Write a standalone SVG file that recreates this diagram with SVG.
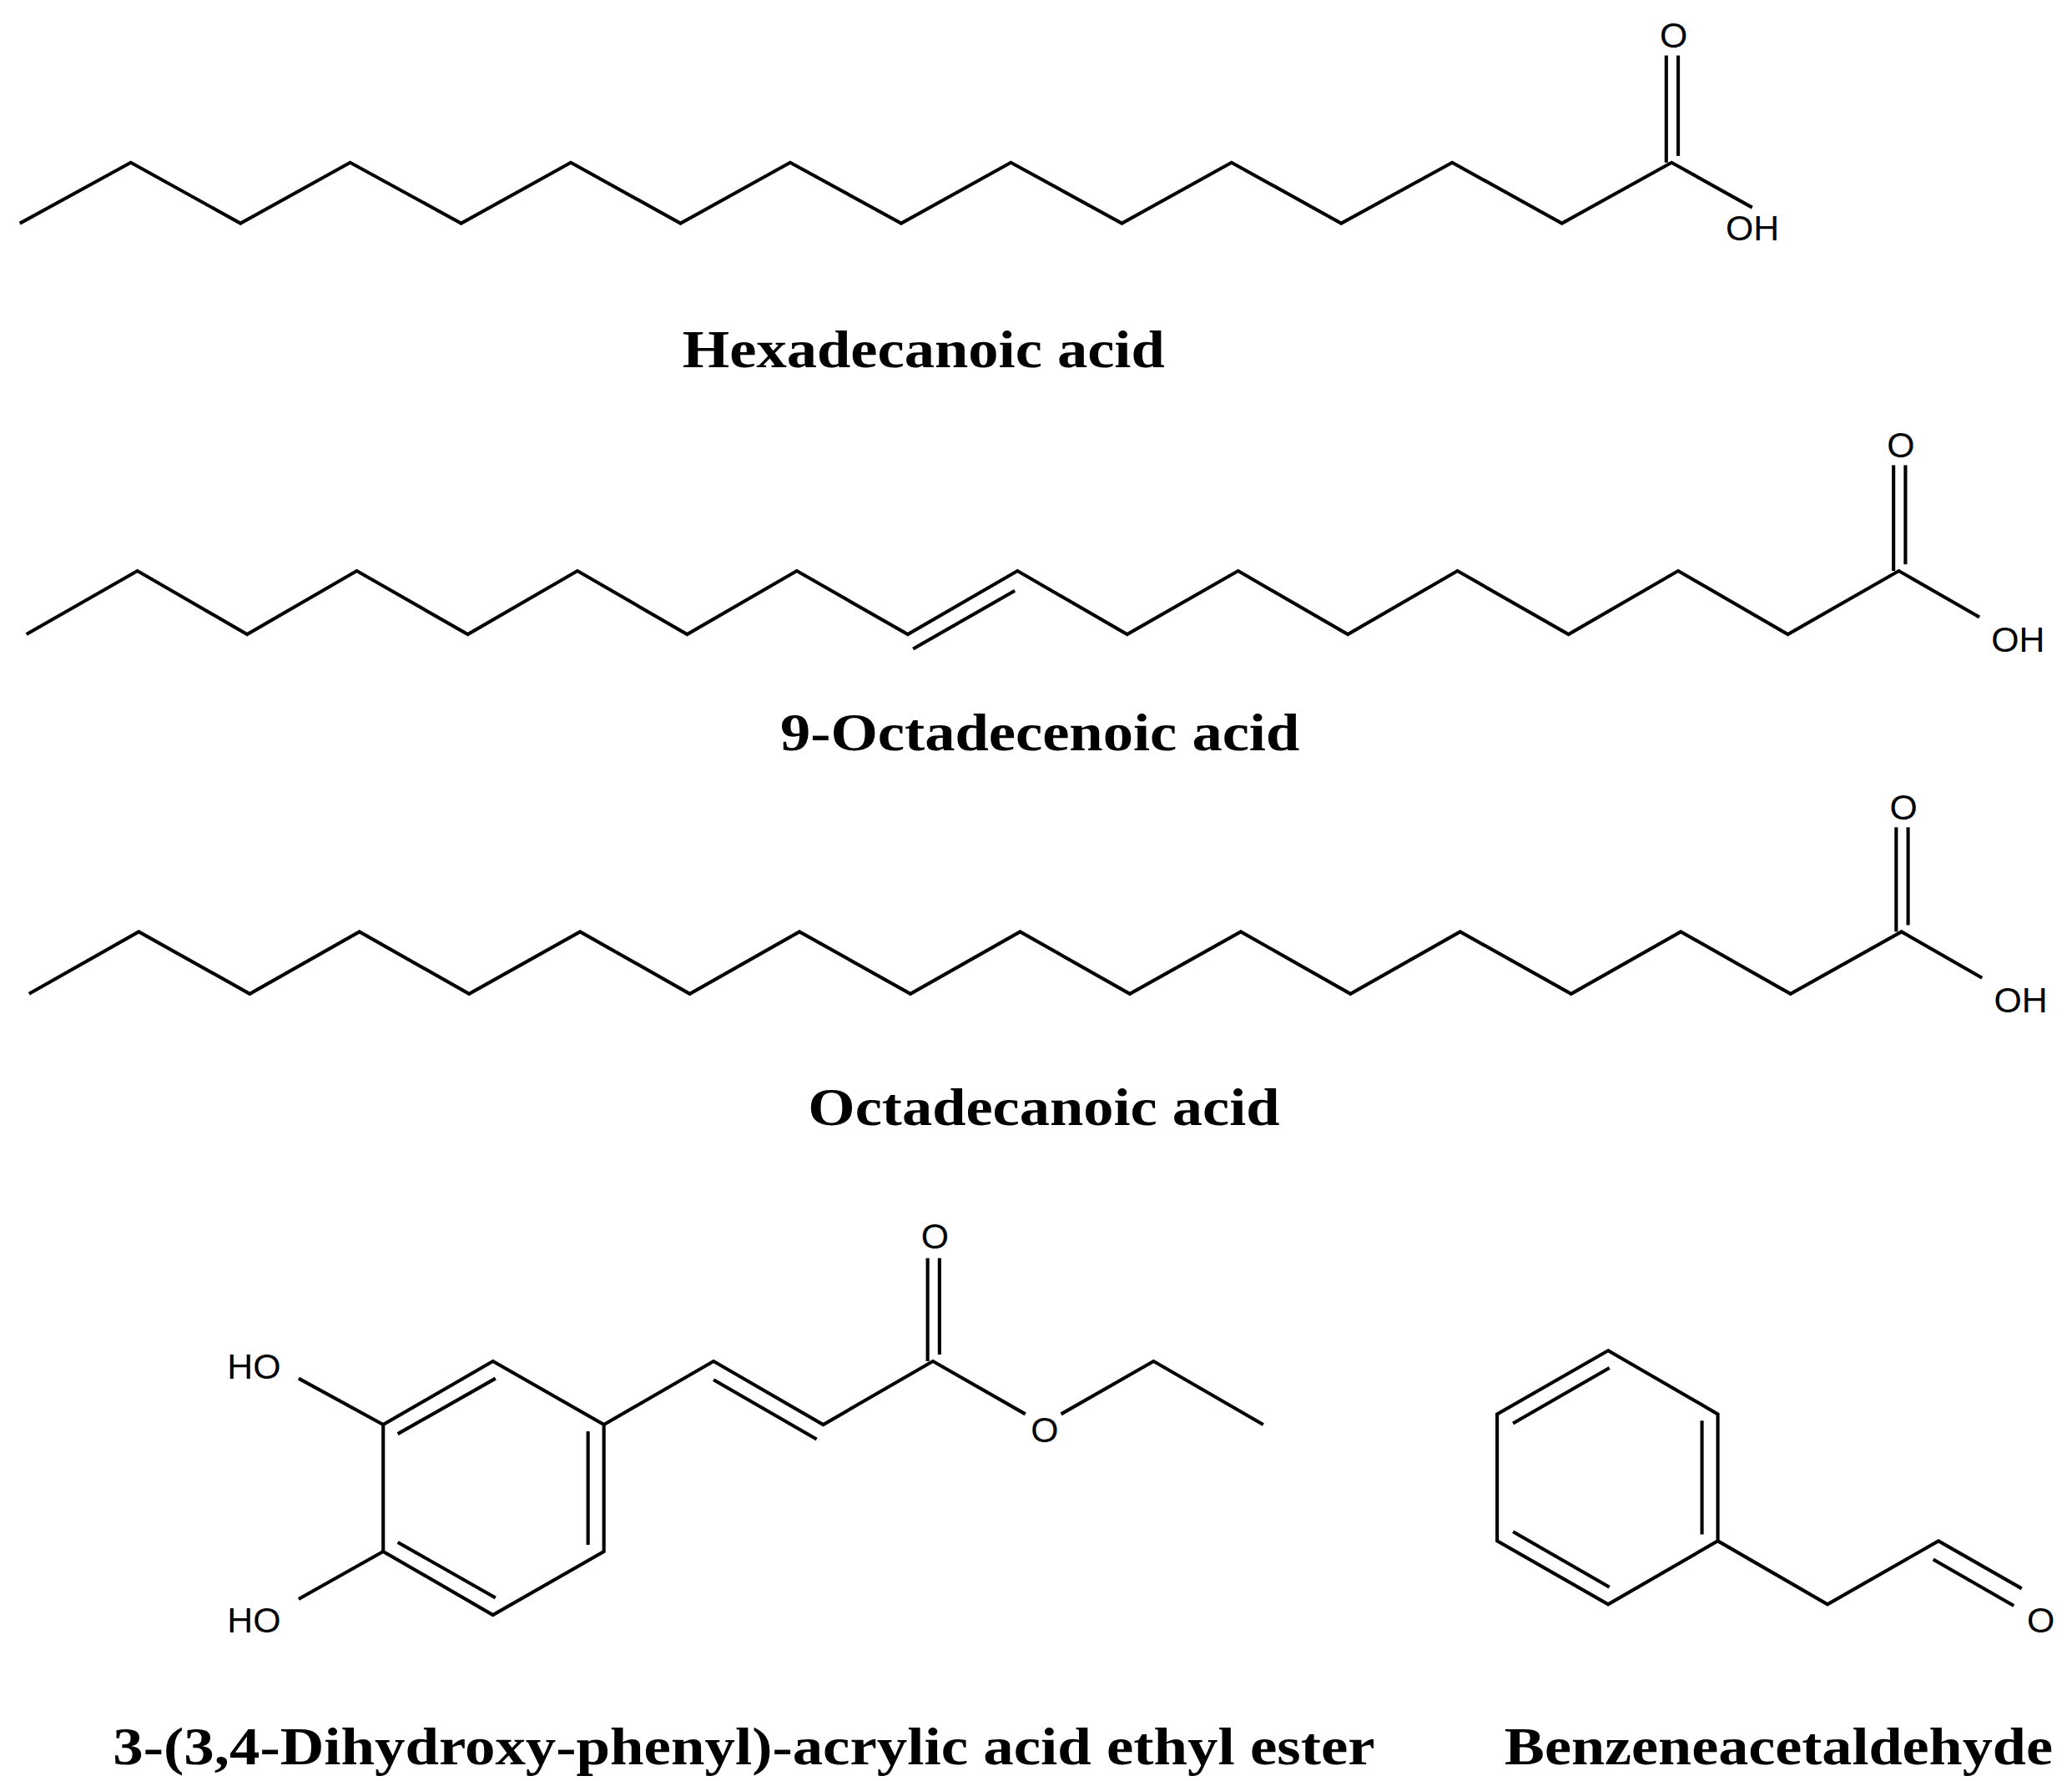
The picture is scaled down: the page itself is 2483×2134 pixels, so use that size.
<svg xmlns="http://www.w3.org/2000/svg" width="2483" height="2134" viewBox="0 0 2483 2134">
<style>
.b{fill:none;stroke:#000;stroke-width:2.6;stroke-linejoin:miter;stroke-linecap:butt}
.a{font-family:"Liberation Sans",Arial,sans-serif;font-size:27px;fill:#000}
.n{font-family:"Liberation Serif","Times New Roman",serif;font-size:40px;font-weight:bold;fill:#000;text-anchor:middle}
</style>
<rect width="2483" height="2134" fill="#fff"/>
<g transform="scale(1.5835)">
<g id="hexadecanoic">
<polyline class="b" points="15,169 99,123 182,169 265,123 349,169 432,123 515,169 598,123 682,169 765,123 849,169 932,123 1015,169 1099,123 1182,169 1265,123 1326,157"/>
<line class="b" x1="1261" y1="123" x2="1261" y2="42"/>
<line class="b" x1="1270" y1="118" x2="1270" y2="42"/>
<text class="a" x="1256" y="36">O</text>
<text class="a" x="1306" y="182">OH</text>
<text class="n" x="699" y="278" textLength="365" lengthAdjust="spacingAndGlyphs">Hexadecanoic acid</text>
</g>
<g id="octadecenoic">
<polyline class="b" points="20,480 104,432 187,480 270,432 354,480 437,432 520,480 603,432 687,480 770,432 853,480 937,432 1020,480 1103,432 1187,480 1270,432 1353,480 1437,432 1498,467"/>
<line class="b" x1="691" y1="491" x2="768" y2="447"/>
<line class="b" x1="1433" y1="432" x2="1433" y2="352"/>
<line class="b" x1="1442" y1="427" x2="1442" y2="352"/>
<text class="a" x="1428" y="346">O</text>
<text class="a" x="1507" y="493">OH</text>
<text class="n" x="787" y="568" textLength="393" lengthAdjust="spacingAndGlyphs">9-Octadecenoic acid</text>
</g>
<g id="octadecanoic">
<polyline class="b" points="22,752 105,705 189,752 272,705 355,752 439,705 522,752 605,705 689,752 772,705 855,752 939,705 1022,752 1105,705 1189,752 1272,705 1355,752 1439,705 1500,740"/>
<line class="b" x1="1435" y1="705" x2="1435" y2="626"/>
<line class="b" x1="1444" y1="700" x2="1444" y2="626"/>
<text class="a" x="1430" y="620">O</text>
<text class="a" x="1509" y="766">OH</text>
<text class="n" x="790" y="851" textLength="357" lengthAdjust="spacingAndGlyphs">Octadecanoic acid</text>
</g>
<g id="caffeate">
<polygon class="b" points="373,1030 457,1078 457,1174 373,1222 290,1174 290,1078"/>
<line class="b" x1="301" y1="1085" x2="375" y2="1043"/>
<line class="b" x1="445" y1="1083" x2="445" y2="1169"/>
<line class="b" x1="301" y1="1167" x2="375" y2="1209"/>
<line class="b" x1="290" y1="1078" x2="226" y2="1043"/>
<line class="b" x1="290" y1="1174" x2="226" y2="1210"/>
<text class="a" x="172" y="1043">HO</text>
<text class="a" x="172" y="1235">HO</text>
<polyline class="b" points="457,1078 540,1030 623,1078 706,1030 776,1070"/>
<polyline class="b" points="803,1070 873,1030 956,1078"/>
<line class="b" x1="540" y1="1044" x2="618" y2="1089"/>
<line class="b" x1="702" y1="1030" x2="702" y2="952"/>
<line class="b" x1="711" y1="1025" x2="711" y2="952"/>
<text class="a" x="697" y="945">O</text>
<text class="a" x="780" y="1091">O</text>
<text class="n" x="563" y="1335" textLength="955" lengthAdjust="spacingAndGlyphs">3-(3,4-Dihydroxy-phenyl)-acrylic acid ethyl ester</text>
</g>
<g id="benzeneacetaldehyde">
<polygon class="b" points="1217,1022 1300,1070 1300,1166 1217,1214 1133,1166 1133,1070"/>
<line class="b" x1="1145" y1="1077" x2="1218" y2="1035"/>
<line class="b" x1="1288" y1="1075" x2="1288" y2="1161"/>
<line class="b" x1="1145" y1="1159" x2="1218" y2="1201"/>
<polyline class="b" points="1300,1166 1383,1214 1467,1166 1530,1202"/>
<line class="b" x1="1463" y1="1180" x2="1524" y2="1215"/>
<text class="a" x="1534" y="1235">O</text>
<text class="n" x="1346" y="1335" textLength="415" lengthAdjust="spacingAndGlyphs">Benzeneacetaldehyde</text>
</g>
</g>
</svg>
